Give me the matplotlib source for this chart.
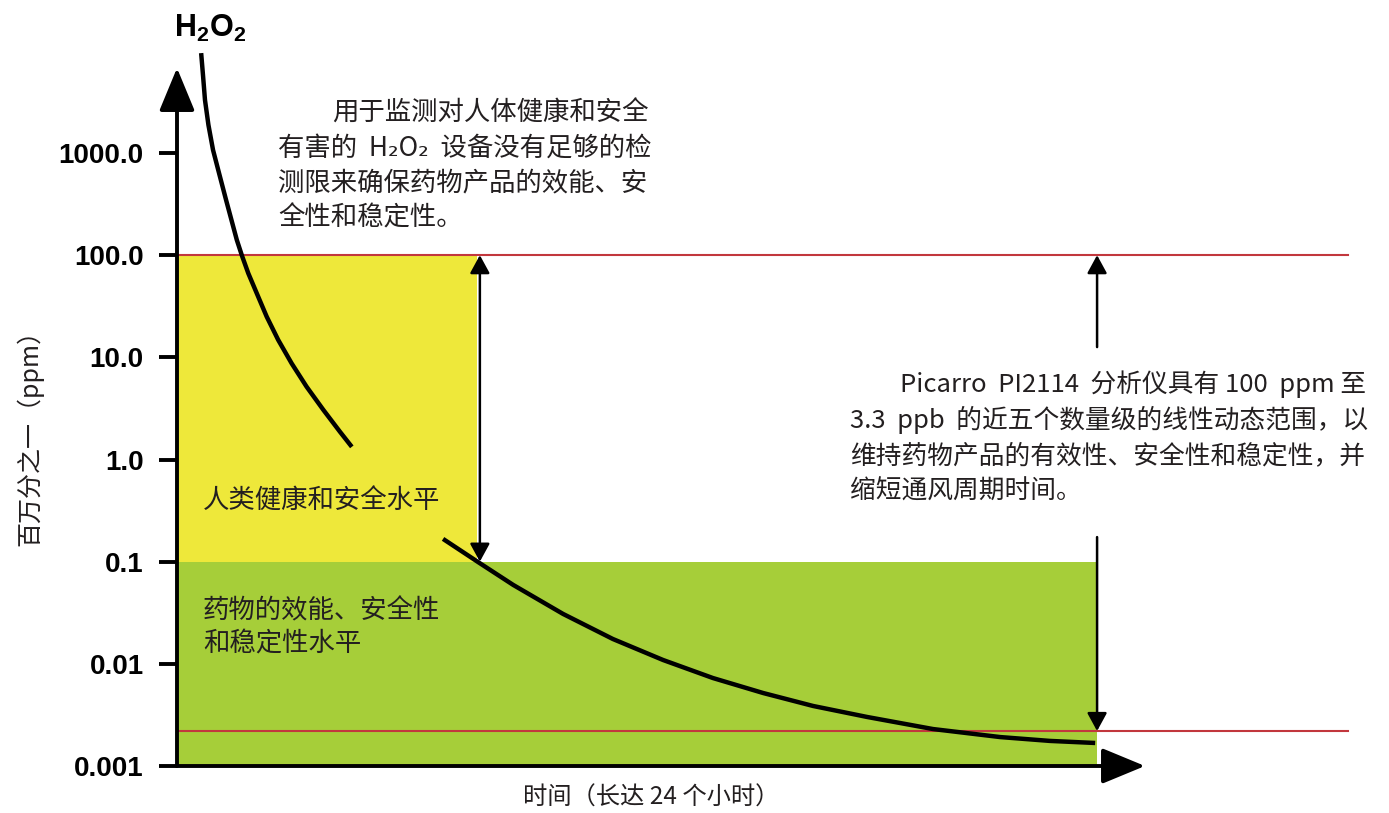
import matplotlib
matplotlib.use("Agg")
import matplotlib.pyplot as plt

# ---------------- data ----------------
# y-axis ticks (ppm)
ytick_values = [1000, 100, 10, 1, 0.1, 0.01, 0.001]
ytick_labels = ["1000.0", "100.0", "10.0", "1.0", "0.1", "0.01", "0.001"]

# H2O2 decay curve, first segment (hours, ppm)
curve1_hours = [0.63, 0.68, 0.73, 0.82, 0.94, 1.11, 1.28, 1.56, 1.69, 1.86,
                2.08, 2.34, 2.64, 2.99, 3.38, 3.82, 4.25, 4.56]
curve1_ppm = [9500, 5660, 3300, 1880, 1070, 608, 347, 141, 100, 66.4,
              42.4, 25.0, 14.8, 8.73, 5.16, 3.05, 1.87, 1.33]
# second segment
curve2_hours = [6.94, 7.85, 8.77, 10.07, 11.37, 12.68, 13.98, 15.29, 16.59,
                18.00, 19.72, 21.47, 22.77, 23.95]
curve2_ppm = [0.167, 0.0993, 0.0592, 0.0308, 0.0175, 0.0109, 0.00726, 0.00518,
              0.00387, 0.00302, 0.00230, 0.00192, 0.00176, 0.00168]

# bands
human_band_hours = [0, 7.83]
human_band_ppm = [0.1, 100]
pharma_band_hours = [0, 24.0]
pharma_band_ppm = [0.001, 0.1]

# range limits of the analyser
upper_limit_ppm = 100
lower_limit_ppm = 0.0022
limit_line_end_hours = 30.55

# axes extents
x_axis_end_hours = 25.25
y_axis_top_ppm = 10 ** 3.832

# arrows
human_arrow_hours = 7.9
range_arrow_hours = 24.0
range_arrow_up_from = 12.6
range_arrow_down_from = 0.174

# ---------------- style ----------------
YELLOW = "#EEE83A"
GREEN = "#A6CE39"
RED = "#C2373D"
TXT = "#231F20"
CJK = ["Noto Sans CJK SC", "DejaVu Sans"]

plt.rcParams["mathtext.fontset"] = "custom"
plt.rcParams["mathtext.rm"] = "Liberation Sans"
plt.rcParams["mathtext.bf"] = "Liberation Sans:bold"

W, H = 1389, 813
fig = plt.figure(figsize=(W / 100, H / 100), dpi=100)
ax = fig.add_axes([177 / W, 47 / H, 968 / W, 698 / H])
ax.set_yscale("log")
ax.set_xlim(0, x_axis_end_hours)
ax.set_ylim(0.001, y_axis_top_ppm)
for s in ax.spines.values():
    s.set_visible(False)
ax.set_xticks([])
ax.set_yticks(ytick_values)
ax.set_yticklabels(ytick_labels)
ax.minorticks_off()
ax.tick_params(axis="y", direction="out", length=13, width=2.8, pad=11,
               labelsize=20, color="black")
for lab in ax.get_yticklabels():
    lab.set_fontfamily("Liberation Sans")
    lab.set_fontweight("bold")

# bands
ax.fill_between(human_band_hours, human_band_ppm[0], human_band_ppm[1],
                color=YELLOW, lw=0, zorder=1)
ax.fill_between(pharma_band_hours, pharma_band_ppm[0], pharma_band_ppm[1],
                color=GREEN, lw=0, zorder=1)

# limit lines
for v in (upper_limit_ppm, lower_limit_ppm):
    ax.plot([0, limit_line_end_hours], [v, v], color=RED, lw=1.5,
            clip_on=False, zorder=2)

# curve
for hx, py in ((curve1_hours, curve1_ppm), (curve2_hours, curve2_ppm)):
    ax.plot(hx, py, color="black", lw=3.2, clip_on=False, zorder=3,
            solid_capstyle="butt", solid_joinstyle="round")

# axis arrows
axis_style = "-|>,head_length=2.66,head_width=1.1"
ax.annotate("", xy=(0, y_axis_top_ppm), xytext=(0, 0.001),
            arrowprops=dict(arrowstyle=axis_style, mutation_scale=10, lw=2.8,
                            color="black", shrinkA=0, shrinkB=0),
            annotation_clip=False, zorder=5)
ax.annotate("", xy=(x_axis_end_hours, 0.001), xytext=(0, 0.001),
            arrowprops=dict(arrowstyle=axis_style, mutation_scale=10, lw=2.8,
                            color="black", shrinkA=0, shrinkB=0),
            annotation_clip=False, zorder=5)

# double arrow (human level)
small = "<|-|>,head_length=1.1,head_width=0.6"
ax.annotate("", xy=(human_arrow_hours, human_band_ppm[1]),
            xytext=(human_arrow_hours, human_band_ppm[0]),
            arrowprops=dict(arrowstyle=small, mutation_scale=10, lw=1.8,
                            color="black", shrinkA=0, shrinkB=0), zorder=4)
one = "-|>,head_length=1.1,head_width=0.6"
ax.annotate("", xy=(range_arrow_hours, upper_limit_ppm),
            xytext=(range_arrow_hours, range_arrow_up_from),
            arrowprops=dict(arrowstyle=one, mutation_scale=10, lw=1.8,
                            color="black", shrinkA=0, shrinkB=0), zorder=4)
ax.annotate("", xy=(range_arrow_hours, lower_limit_ppm),
            xytext=(range_arrow_hours, range_arrow_down_from),
            arrowprops=dict(arrowstyle=one, mutation_scale=10, lw=1.8,
                            color="black", shrinkA=0, shrinkB=0), zorder=4)


def ftxt(x, y, s, **kw):
    kw.setdefault("family", CJK)
    kw.setdefault("color", TXT)
    kw.setdefault("va", "center")
    fig.text(x / W, 1 - y / H, s, **kw)


# H2O2 axis title
ftxt(174, 28, r"$\mathbf{H_2O_2}$", ha="left", fontsize=22, color="black")

# top-left note
ftxt(332, 113, "用于监测对人体健康和安全", ha="left", fontsize=19)
ftxt(278, 148, "有害的  H₂O₂  设备没有足够的检", ha="left", fontsize=19)
ftxt(278, 183, "测限来确保药物产品的效能、安", ha="left", fontsize=19)
ftxt(278, 218, "全性和稳定性。", ha="left", fontsize=19)

# right note
ftxt(900, 384, "Picarro  PI2114  分析仪具有 100  ppm 至", ha="left", fontsize=18.5)
ftxt(850, 420, "3.3  ppb  的近五个数量级的线性动态范围，以", ha="left", fontsize=18.5)
ftxt(850, 456, "维持药物产品的有效性、安全性和稳定性，并", ha="left", fontsize=18.5)
ftxt(850, 492, "缩短通风周期时间。", ha="left", fontsize=18.5)

# band labels
ftxt(203, 500, "人类健康和安全水平", ha="left", fontsize=19)
ftxt(203, 611, "药物的效能、安全性", ha="left", fontsize=19)
ftxt(203, 644, "和稳定性水平", ha="left", fontsize=19)

# axis labels
ftxt(651, 798, "时间（长达 24 个小时）", ha="center", fontsize=17.5)
ftxt(30, 431, "百万分之一（ppm）", ha="center", fontsize=18, rotation=90)

fig.savefig("out.png", dpi=100)
